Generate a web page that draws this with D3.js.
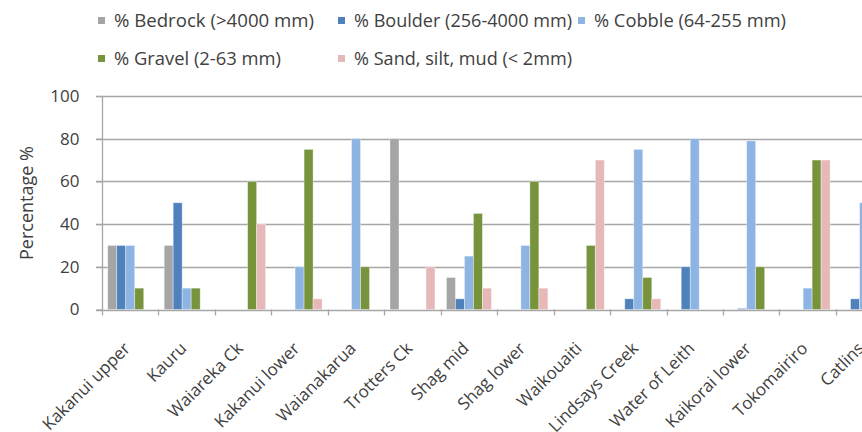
<!DOCTYPE html>
<html>
<head>
<meta charset="utf-8">
<script src="https://cdn.jsdelivr.net/npm/d3@7"></script>
<style>
  html, body { margin: 0; padding: 0; background: #fff; }
  svg { display: block; }
  text { font-family: "Open Sans", "Noto Sans", sans-serif; fill: #404040; }
</style>
</head>
<body>
<svg id="chart" width="862" height="432"></svg>
<script>
// Sites along the x axis
const sites = ["Kakanui upper", "Kauru", "Waiareka Ck", "Kakanui lower", "Waianakarua",
  "Trotters Ck", "Shag mid", "Shag lower", "Waikouaiti", "Lindsays Creek",
  "Water of Leith", "Kaikorai lower", "Tokomairiro", "Catlins"];

// Substrate composition per site (%)
const bedrock = [30, 30, 0, 0, 0, 80, 15, 0, 0, 0, 0, 0, 0, 0];
const boulder = [30, 50, 0, 0, 0, 0, 5, 0, 0, 5, 20, 0.5, 0, 5];
const cobble  = [30, 10, 0, 20, 80, 0, 25, 30, 0, 75, 80, 79, 10, 50];
const gravel  = [10, 10, 60, 75, 20, 0, 45, 60, 30, 15, 0, 20, 70, 0];
const sand    = [0, 0, 40, 5, 0, 20, 10, 10, 70, 5, 0, 0, 70, 0];

const seriesNames = ["% Bedrock (>4000 mm)", "% Boulder (256-4000 mm)", "% Cobble (64-255 mm)",
  "% Gravel (2-63 mm)", "% Sand, silt, mud (< 2mm)"];
const seriesColors = ["#A5A5A5", "#4F81BD", "#8EB4E3", "#77933C", "#E6B9B8"];
const yTicks = [0, 20, 40, 60, 80, 100];

const series = [bedrock, boulder, cobble, gravel, sand].map((vals, i) => ({
  name: seriesNames[i], color: seriesColors[i], values: vals
}));

const svg = d3.select("#chart");
const W = 862, H = 432;
const plot = { left: 102, top: 96, bottom: 309.5, right: 892.3 };

const x0 = d3.scaleBand().domain(sites).range([plot.left, plot.right]).paddingInner(0).paddingOuter(0);
const x1 = d3.scaleBand().domain(d3.range(series.length)).range([0, x0.bandwidth()])
  .paddingInner(0).paddingOuter(0.636);
const y = d3.scaleLinear().domain([0, 100]).range([plot.bottom, plot.top]);

// Horizontal gridlines (run off the right edge)
svg.append("g").selectAll("line").data(yTicks.filter(t => t > 0)).join("line")
  .attr("x1", plot.left - 6).attr("x2", W)
  .attr("y1", d => Math.round(y(d)) + 0.5).attr("y2", d => Math.round(y(d)) + 0.5)
  .attr("stroke", "#A6A6A6").attr("stroke-width", 1.3);

// Bars
const groups = svg.append("g").selectAll("g").data(sites).join("g")
  .attr("transform", d => `translate(${x0(d)},0)`);
groups.selectAll("rect")
  .data((d, i) => series.map((s, k) => ({ k, v: s.values[i], color: s.color })).filter(e => e.v > 0))
  .join("rect")
  .attr("x", d => x1(d.k))
  .attr("width", x1.bandwidth())
  .attr("y", d => y(d.v))
  .attr("height", d => y(0) - y(d.v))
  .attr("fill", d => d.color)
  .attr("stroke", "rgba(255,255,255,0.45)")
  .attr("stroke-width", 0.8);

// Y axis
const yAxis = d3.axisLeft(y).tickValues(yTicks).tickSize(6).tickPadding(17);
const gy = svg.append("g").attr("transform", `translate(${plot.left + 0.5},0)`).call(yAxis);
gy.select(".domain").attr("stroke", "#A6A6A6").attr("stroke-width", 1.3)
  .attr("d", `M0,${plot.top}V${plot.bottom}`);
gy.selectAll(".tick line").attr("stroke", "#A6A6A6").attr("stroke-width", 1.3);
gy.selectAll(".tick text").style("font-size", "17px").style("font-family", "'Open Sans', sans-serif")
  .attr("fill", "#404040");

// X axis
const xAxis = d3.axisBottom(x0).tickSize(0).tickFormat("");
const gx = svg.append("g").attr("transform", `translate(0,${Math.round(plot.bottom) + 0.5})`).call(xAxis);
gx.select(".domain").attr("stroke", "#A6A6A6").attr("stroke-width", 1.3)
  .attr("d", `M${plot.left - 6},0H${W}`);
gx.selectAll(".tick").remove();
// category boundary tick marks
svg.append("g").selectAll("line").data(sites).join("line")
  .attr("x1", d => Math.round(x0(d)) + 0.5).attr("x2", d => Math.round(x0(d)) + 0.5)
  .attr("y1", plot.bottom).attr("y2", plot.bottom + 6)
  .attr("stroke", "#A6A6A6").attr("stroke-width", 1.3);

// Rotated category labels
svg.append("g").selectAll("text").data(sites).join("text")
  .attr("transform", d => `translate(${x0(d) + x0.bandwidth() / 2 + 1},${plot.bottom + 40}) rotate(-45)`)
  .attr("text-anchor", "end")
  .style("font-size", "17px")
  .text(d => d);

// Y axis title
svg.append("text")
  .attr("transform", `translate(33,203) rotate(-90)`)
  .attr("text-anchor", "middle")
  .style("font-size", "18px")
  .text("Percentage %");

// Legend: two rows, three columns
const legendPos = [[98, 27], [338, 27], [578, 27], [98, 65], [338, 65]];
const legendWidths = [200, 218, 192, 167, 218];
const lg = svg.append("g").selectAll("g").data(series).join("g")
  .attr("transform", (d, i) => `translate(${legendPos[i][0]},${legendPos[i][1]})`);
lg.append("rect").attr("x", 0).attr("y", -10).attr("width", 7).attr("height", 7).attr("fill", d => d.color);
lg.append("text").attr("x", 16).attr("y", 0).style("font-size", "19px")
  .attr("textLength", (d, i) => legendWidths[i]).attr("lengthAdjust", "spacingAndGlyphs")
  .text(d => d.name);
</script>
</body>
</html>
